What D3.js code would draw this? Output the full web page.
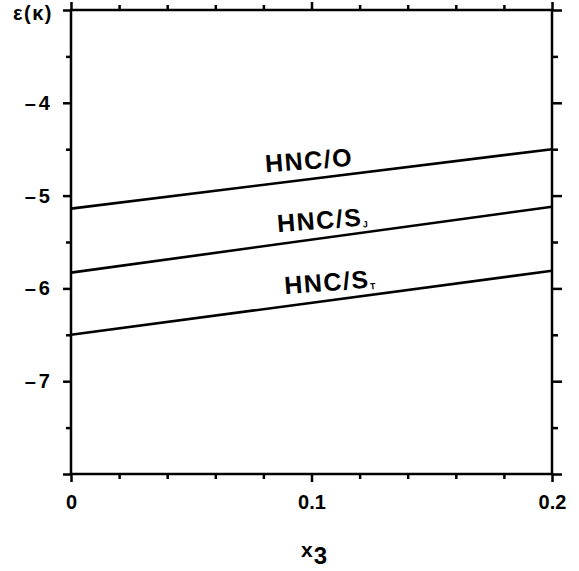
<!DOCTYPE html>
<html>
<head>
<meta charset="utf-8">
<script src="https://cdn.jsdelivr.net/npm/d3@7"></script>
<style>
  body { margin: 0; background: #fff; }
  svg { font-family: "Liberation Sans", Arial, sans-serif; font-weight: bold; }
</style>
</head>
<body>
<div id="chart"></div>
<script>
// data
const xValues = [0, 0.2];
const hncO = [-5.14, -4.50];
const hncSJ = [-5.83, -5.12];
const hncST = [-6.50, -5.81];
const seriesNames = ["HNC/O", "HNC/S", "HNC/S"];
const seriesSubs = ["", "J", "T"];
const xMajorTicks = [0, 0.1, 0.2];
const xMinorTicks = [0.02, 0.04, 0.06, 0.08, 0.12, 0.14, 0.16, 0.18];
const yMajorTicks = [-8, -7, -6, -5, -4, -3];
const yLabelTicks = [-7, -6, -5, -4];
const yMinorTicks = [-7.5, -6.5, -5.5, -4.5, -3.5];

const width = 579, height = 571;
const plotLeft = 71, plotRight = 552, plotTop = 10, plotBottom = 474;
const fontName = "'Liberation Sans', Arial, sans-serif";

const svg = d3.select("#chart").append("svg")
    .attr("width", width)
    .attr("height", height);

const x = d3.scaleLinear().domain([0, 0.2]).range([plotLeft, plotRight]);
const y = d3.scaleLinear().domain([-8, -3]).range([plotBottom, plotTop]);

// frame
svg.append("rect")
    .attr("x", plotLeft).attr("y", plotTop)
    .attr("width", plotRight - plotLeft).attr("height", plotBottom - plotTop)
    .attr("fill", "none").attr("stroke", "#000").attr("stroke-width", 2.5);

function styleAxis(g) {
    g.attr("font-family", fontName).attr("font-size", 20).attr("font-weight", "bold");
    g.select(".domain").remove();
    g.selectAll("line").attr("stroke", "#000").attr("stroke-width", 2.5);
    g.selectAll("text").attr("fill", "#000");
}

// bottom axis
svg.append("g").attr("transform", `translate(0,${plotBottom})`)
    .call(d3.axisBottom(x).tickValues(xMajorTicks).tickSize(8).tickPadding(13)
        .tickFormat(d => d === 0 ? "0" : d3.format(".1f")(d)))
    .call(styleAxis);
svg.append("g").attr("transform", `translate(0,${plotBottom})`)
    .call(d3.axisBottom(x).tickValues(xMinorTicks).tickSize(5).tickFormat(""))
    .call(styleAxis);

// top axis
svg.append("g").attr("transform", `translate(0,${plotTop})`)
    .call(d3.axisTop(x).tickValues(xMajorTicks).tickSize(8).tickFormat(""))
    .call(styleAxis);
svg.append("g").attr("transform", `translate(0,${plotTop})`)
    .call(d3.axisTop(x).tickValues(xMinorTicks).tickSize(5).tickFormat(""))
    .call(styleAxis);

// left axis
svg.append("g").attr("transform", `translate(${plotLeft},0)`)
    .call(d3.axisLeft(y).tickValues(yMajorTicks).tickSize(8).tickPadding(10)
        .tickFormat(d => yLabelTicks.includes(d) ? "\u2013" + Math.abs(d) : ""))
    .call(styleAxis)
    .selectAll("text").attr("letter-spacing", 3);
svg.append("g").attr("transform", `translate(${plotLeft},0)`)
    .call(d3.axisLeft(y).tickValues(yMinorTicks).tickSize(5).tickFormat(""))
    .call(styleAxis);

// right axis
svg.append("g").attr("transform", `translate(${plotRight},0)`)
    .call(d3.axisRight(y).tickValues(yMajorTicks).tickSize(10).tickFormat(""))
    .call(styleAxis);
svg.append("g").attr("transform", `translate(${plotRight},0)`)
    .call(d3.axisRight(y).tickValues(yMinorTicks).tickSize(6).tickFormat(""))
    .call(styleAxis);

// y title
svg.append("text")
    .attr("x", 13).attr("y", 20)
    .attr("font-size", 20)
    .attr("letter-spacing", 1.5)
    .text("ε(κ)");

// x title
const xt = svg.append("text")
    .attr("x", 301).attr("y", 557)
    .attr("font-size", 21);
xt.append("tspan").text("x");
xt.append("tspan").attr("dy", 7).attr("dx", 1).attr("font-size", 24).text("3");

// lines
const line = d3.line()
    .x((d, i) => x(xValues[i]))
    .y(d => y(d));

const allSeries = [hncO, hncSJ, hncST];
svg.selectAll(".series")
    .data(allSeries)
    .join("path")
    .attr("class", "series")
    .attr("d", line)
    .attr("fill", "none")
    .attr("stroke", "#000")
    .attr("stroke-width", 2.6);

// labels above lines
const labelAt = [0.081, 0.086, 0.089];
allSeries.forEach((s, i) => {
    const lx = labelAt[i];
    const ly = s[0] + (s[1] - s[0]) * (lx - xValues[0]) / (xValues[1] - xValues[0]);
    const t = svg.append("text")
        .attr("transform", `translate(${x(lx)},${y(ly) - 12}) rotate(-4.5)`)
        .attr("font-size", 25)
        .attr("letter-spacing", 1.5);
    t.append("tspan").text(seriesNames[i]);
    if (seriesSubs[i]) {
        t.append("tspan").attr("dy", 2).attr("font-size", 9).text(seriesSubs[i]);
    }
});
</script>
</body>
</html>
